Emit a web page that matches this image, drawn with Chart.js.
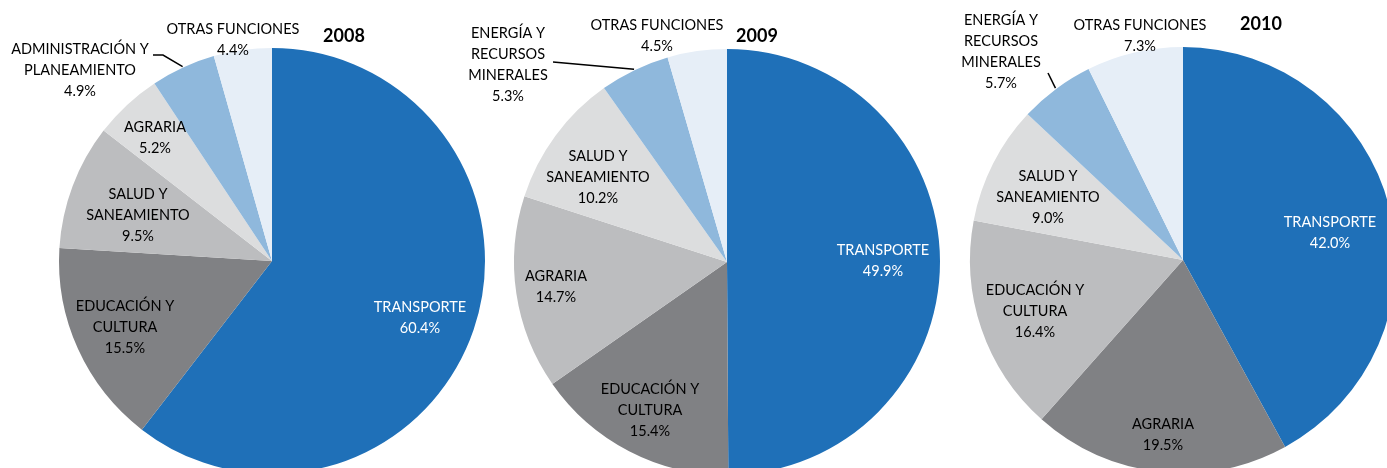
<!DOCTYPE html>
<html>
<head>
<meta charset="utf-8">
<script src="https://cdn.jsdelivr.net/npm/chart.js@4.4.0/dist/chart.umd.min.js"></script>
<style>
html, body { margin: 0; padding: 0; background: #fff; overflow: hidden; width: 1387px; height: 468px; }
canvas { position: absolute; left: 0; top: 0; }
</style>
</head>
<body>
<canvas id="g2008" width="1420" height="520"></canvas>
<canvas id="g2009" width="1420" height="520"></canvas>
<canvas id="g2010" width="1420" height="520"></canvas>
<script>
// datos (% del total por funcion)
const categorias2008 = ['TRANSPORTE', 'EDUCACIÓN Y CULTURA', 'SALUD Y SANEAMIENTO', 'AGRARIA', 'ADMINISTRACIÓN Y PLANEAMIENTO', 'OTRAS FUNCIONES'];
const valores2008 = [60.4, 15.5, 9.5, 5.2, 4.9, 4.4];

const categorias2009 = ['TRANSPORTE', 'EDUCACIÓN Y CULTURA', 'AGRARIA', 'SALUD Y SANEAMIENTO', 'ENERGÍA Y RECURSOS MINERALES', 'OTRAS FUNCIONES'];
const valores2009 = [49.9, 15.4, 14.7, 10.2, 5.3, 4.5];

const categorias2010 = ['TRANSPORTE', 'AGRARIA', 'EDUCACIÓN Y CULTURA', 'SALUD Y SANEAMIENTO', 'ENERGÍA Y RECURSOS MINERALES', 'OTRAS FUNCIONES'];
const valores2010 = [42.0, 19.5, 16.4, 9.0, 5.7, 7.3];

const colores = ['#1f70b8', '#808184', '#bcbdbf', '#dcddde', '#8fb8dc', '#e6eef7'];
const FUENTE = 'Lato, "Open Sans", sans-serif';

// "EDUCACIÓN Y CULTURA" -> ["EDUCACIÓN Y", "CULTURA"]
function partirEtiqueta(texto){
    const i = texto.indexOf(' Y ');
    if(i < 0) return [texto];
    return [texto.slice(0, i + 2), ...texto.slice(i + 3).split(' ')];
}

const etiquetasPlugin = {
    id: 'etiquetas',
    afterDatasetsDraw(chart, args, opts){
        const ctx = chart.ctx;
        const meta = chart.getDatasetMeta(0);
        const valores = chart.data.datasets[0].data;
        ctx.save();
        ctx.textAlign = 'center';
        ctx.textBaseline = 'middle';
        const alto = 21;
        meta.data.forEach((arc, i)=>{
            const [dx, dy] = opts.posiciones[i];
            const lineas = [...partirEtiqueta(chart.data.labels[i]), valores[i].toFixed(1) + '%'];
            const y0 = arc.y + dy - (lineas.length - 1) * alto / 2;
            ctx.font = '14.5px ' + FUENTE;
            ctx.fillStyle = i === 0 ? '#ffffff' : '#000000';
            lineas.forEach((l, k)=> ctx.fillText(l, arc.x + dx, y0 + k * alto));

            const guia = opts.guias[i];
            if(guia){
                const medio = (arc.startAngle + arc.endAngle) / 2;
                ctx.beginPath();
                ctx.strokeStyle = '#000';
                ctx.lineWidth = 1.5;
                ctx.moveTo(arc.x + guia[0][0], arc.y + guia[0][1]);
                guia.slice(1).forEach(p=> ctx.lineTo(arc.x + p[0], arc.y + p[1]));
                ctx.lineTo(arc.x + Math.cos(medio) * (arc.outerRadius + 1), arc.y + Math.sin(medio) * (arc.outerRadius + 1));
                ctx.stroke();
            }
        });
        const a = meta.data[0];
        ctx.font = 'bold 18px ' + FUENTE;
        ctx.fillStyle = '#000';
        ctx.fillText(opts.titulo, a.x + opts.posTitulo[0], a.y + opts.posTitulo[1]);
        ctx.restore();
    }
};

function setupTorta(canvasId, titulo, categorias, valores, centro, posiciones, guias, posTitulo){
    const ctx = document.getElementById(canvasId).getContext('2d');
    const radio = 213;
    const data = {
        labels: categorias,
        datasets: [{
            data: valores,
            backgroundColor: colores,
            borderWidth: 0,
            hoverOffset: 0
        }]
    };
    const options = {
        responsive: false,
        animation: false,
        layout: {
            padding: {
                left: centro[0] - radio,
                right: 1420 - centro[0] - radio,
                top: centro[1] - radio,
                bottom: 520 - centro[1] - radio
            }
        },
        plugins: {
            legend: { display: false },
            tooltip: { enabled: false },
            etiquetas: { titulo: titulo, posiciones: posiciones, guias: guias, posTitulo: posTitulo }
        }
    };
    return new Chart(ctx, { type: 'pie', data: data, options: options, plugins: [etiquetasPlugin] });
}

setupTorta('g2008', '2008', categorias2008, valores2008, [272, 261],
    [[148, 57], [-147, 66], [-134, -46], [-117, -123], [-192, -191], [-39, -221]],
    {4: [[-119, -206], [-109, -206]]}, [72, -225]);

setupTorta('g2009', '2009', categorias2009, valores2009, [727, 262],
    [[156, -1], [-77, 148], [-171, 25], [-129, -85], [-219, -197], [-70, -226]],
    {4: [[-174, -200]]}, [30, -226]);

setupTorta('g2010', '2010', categorias2010, valores2010, [1183, 260],
    [[147, -27], [-20, 175], [-148, 51], [-135, -63], [-182, -208], [-43, -224]],
    {4: [[-135, -187]]}, [78, -236]);
</script>
</body>
</html>
